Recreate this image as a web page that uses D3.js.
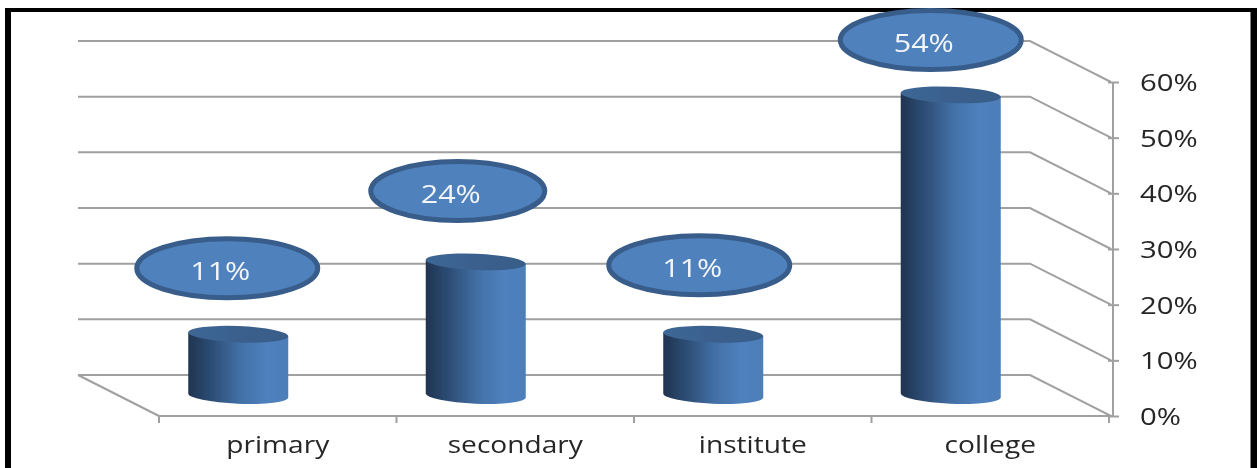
<!DOCTYPE html>
<html>
<head>
<meta charset="utf-8">
<script src="https://cdnjs.cloudflare.com/ajax/libs/d3/7.8.5/d3.min.js"></script>
<style>
html,body{margin:0;padding:0;background:#fff;overflow:hidden}
svg{display:block}
text{font-family:"Open Sans",sans-serif}
</style>
</head>
<body>
<svg id="chart" width="1259" height="468"></svg>
<script>
const categories = ["primary", "secondary", "institute", "college"];
const values = [11, 24, 11, 54];
const tickValues = [0, 10, 20, 30, 40, 50, 60];

const svg = d3.select("#chart");
const defs = svg.append("defs");

const soft = defs.append("filter").attr("id", "soft")
  .attr("filterUnits", "userSpaceOnUse")
  .attr("x", 0).attr("y", 0).attr("width", 1259).attr("height", 468);
soft.append("feGaussianBlur").attr("stdDeviation", 0.6);

const bodyGrad = defs.append("linearGradient").attr("id", "body");
[[0, "#1f3450"], [0.25, "#2e4f78"], [0.52, "#4270a6"], [0.78, "#4f81bd"], [1, "#4d7eb9"]]
  .forEach(([o, c]) => bodyGrad.append("stop").attr("offset", o).attr("stop-color", c));
const capGrad = defs.append("linearGradient").attr("id", "cap");
[[0, "#3d6796"], [0.6, "#3a5f8c"], [1, "#395d88"]]
  .forEach(([o, c]) => capGrad.append("stop").attr("offset", o).attr("stop-color", c));

// Scales: front plane of the 3-D box
const x = d3.scaleBand().domain(categories).range([159, 1109]);
const y = d3.scaleLinear().domain([0, 60]).range([416, 82]);
const depthX = -81, depthY = -41;

const root = svg.append("g").attr("filter", "url(#soft)");
const axisColor = "#a0a0a0";

// The source picture is stretched sideways: widen text without making it taller
function stretch(sel, factor) {
  sel.each(function () {
    const len = this.getComputedTextLength();
    d3.select(this).attr("textLength", len * factor).attr("lengthAdjust", "spacingAndGlyphs");
  });
}

// Walls: grid lines running along the back and forward to the axis
const grid = root.append("g").attr("fill", "none").attr("stroke", axisColor).attr("stroke-width", 2);
grid.selectAll("path").data(tickValues).join("path")
  .attr("d", d => {
    const p = d3.path();
    p.moveTo(x.range()[0] + depthX, y(d) + depthY);
    p.lineTo(1111 + depthX, y(d) + depthY);
    p.lineTo(1111, y(d));
    return p.toString();
  });
// Floor left edge
const floor = d3.path();
floor.moveTo(x.range()[0] + depthX, y(0) + depthY);
floor.lineTo(x.range()[0], y(0));
grid.append("path").attr("d", floor.toString());

// Right value axis
const yAxis = root.append("g").attr("transform", "translate(1113,0)")
  .call(d3.axisRight(y).tickValues(tickValues).tickSize(6).tickPadding(21).tickFormat(d => d + "%"));
yAxis.select(".domain").attr("stroke", axisColor).attr("stroke-width", 2).attr("d", `M0,${y(60)}V${y(0)}`);
yAxis.selectAll(".tick line").attr("stroke", axisColor).attr("stroke-width", 2).attr("x1", -5);
yAxis.selectAll(".tick text")
  .attr("fill", "#262626").style("font-size", "24px").style("font-family", '"Open Sans",sans-serif')
  .attr("text-anchor", "start").attr("dy", "0.36em")
  .call(stretch, 1.22);

// Bottom category axis
const xAxis = root.append("g").attr("transform", `translate(0,${y(0)})`)
  .call(d3.axisBottom(x).tickSize(0).tickPadding(20));
xAxis.select(".domain").attr("stroke", axisColor).attr("stroke-width", 2).attr("d", `M159,0H1113`);
xAxis.selectAll(".tick text")
  .attr("fill", "#262626").style("font-size", "24px").style("font-family", '"Open Sans",sans-serif')
  .call(stretch, 1.17);
root.append("g").attr("stroke", axisColor).attr("stroke-width", 2)
  .selectAll("line").data(d3.range(categories.length + 1)).join("line")
  .attr("x1", i => x.range()[0] + i * x.step()).attr("x2", i => x.range()[0] + i * x.step())
  .attr("y1", y(0)).attr("y2", y(0) + 7);

// Cylinders sit mid-way through the depth of the box
const barW = 100, ry = 8.2, tilt = 2.4;
const barCx = c => x(c) + x.bandwidth() / 2 + depthX / 2 + 1;
const barY = v => y(v) + depthY / 2;
const rot = Math.sin(tilt * Math.PI / 180) * barW / 2;

const bars = root.append("g").selectAll("g").data(categories.map((c, i) => ({c, v: values[i]}))).join("g")
  .attr("transform", d => `translate(${barCx(d.c)},0)`);
bars.append("path").attr("fill", "url(#body)")
  .attr("d", d => {
    const t = barY(d.v), b = barY(0), w = barW / 2;
    return `M${-w},${t - rot}L${-w},${b - rot}A${w},${ry} ${tilt} 0 0 ${w},${b + rot}L${w},${t + rot}Z`;
  });
bars.append("ellipse").attr("fill", "url(#cap)")
  .attr("rx", barW / 2).attr("ry", ry)
  .attr("transform", d => `translate(0,${barY(d.v)}) rotate(${tilt})`);

// Picture frame, open at the bottom edge
root.append("path").attr("fill", "#000").attr("fill-rule", "evenodd")
  .attr("d", "M5,468V8H1257V468H1250.5V12H11V468Z");

// Oval value callouts, hand-placed relative to each cylinder
const calloutDx = [-11, -18, -14, -20];
const calloutDy = [-66, -71, -69, -55];
const callouts = root.append("g").selectAll("g").data(categories.map((c, i) => ({c, v: values[i], i}))).join("g")
  .attr("transform", d => `translate(${barCx(d.c) + calloutDx[d.i]},${barY(d.v) + calloutDy[d.i]})`);
callouts.append("ellipse")
  .attr("rx", d => d.i === 1 ? 87 : 90.5).attr("ry", 29.5)
  .attr("fill", "#4f81bd").attr("stroke", "#385d8a").attr("stroke-width", 5);
callouts.append("text").text(d => d.v + "%")
  .attr("x", -7).attr("y", 3).attr("dy", "0.36em").attr("text-anchor", "middle")
  .attr("fill", "#f2f5fa").style("font-size", "25px")
  .call(stretch, 1.22);
</script>
</body>
</html>
